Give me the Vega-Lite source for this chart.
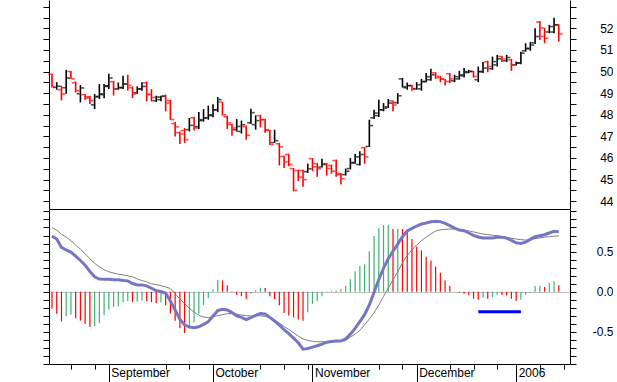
{
"$schema": "https://vega.github.io/schema/vega-lite/v6.json",
"background": "white",
"padding": {"left": 42, "top": 0, "right": 0, "bottom": 0},
"spacing": 0,
"bounds": "flush",
"config": {"view": {"stroke": null}, "axis": {"domainColor": "#000", "tickColor": "#000", "labelColor": "#000", "labelFont": "Liberation Sans", "labelFontSize": 12, "grid": false, "domainWidth": 1, "tickWidth": 1}},
"resolve": {"scale": {"color": "independent", "x": "independent", "y": "independent"}},
"datasets": {
"px": [
{"d":"2005-08-16","o":49.88,"h":49.90,"l":49.26,"c":49.27,"col":"down"},
{"d":"2005-08-17","o":49.27,"h":49.51,"l":49.16,"c":49.32,"col":"up"},
{"d":"2005-08-18","o":49.16,"h":49.34,"l":48.66,"c":48.96,"col":"down"},
{"d":"2005-08-19","o":49.25,"h":50.08,"l":48.97,"c":49.70,"col":"up"},
{"d":"2005-08-22","o":50.00,"h":50.03,"l":49.65,"c":49.66,"col":"down"},
{"d":"2005-08-23","o":49.48,"h":49.54,"l":49.03,"c":49.11,"col":"down"},
{"d":"2005-08-24","o":48.97,"h":49.37,"l":48.57,"c":49.24,"col":"up"},
{"d":"2005-08-25","o":48.93,"h":48.96,"l":48.70,"c":48.77,"col":"down"},
{"d":"2005-08-26","o":48.83,"h":48.88,"l":48.50,"c":48.65,"col":"down"},
{"d":"2005-08-29","o":48.46,"h":48.96,"l":48.27,"c":48.85,"col":"up"},
{"d":"2005-08-30","o":48.83,"h":49.42,"l":48.73,"c":48.97,"col":"up"},
{"d":"2005-08-31","o":48.93,"h":49.42,"l":48.76,"c":49.31,"col":"up"},
{"d":"2005-09-01","o":49.34,"h":49.90,"l":49.19,"c":49.70,"col":"up"},
{"d":"2005-09-02","o":49.53,"h":49.57,"l":48.89,"c":49.19,"col":"down"},
{"d":"2005-09-05","o":49.20,"h":49.49,"l":49.16,"c":49.26,"col":"up"},
{"d":"2005-09-06","o":49.25,"h":49.80,"l":49.19,"c":49.42,"col":"up"},
{"d":"2005-09-07","o":49.43,"h":49.85,"l":49.12,"c":49.36,"col":"down"},
{"d":"2005-09-08","o":49.25,"h":49.31,"l":48.77,"c":48.96,"col":"down"},
{"d":"2005-09-09","o":49.02,"h":49.31,"l":48.97,"c":49.19,"col":"up"},
{"d":"2005-09-12","o":49.20,"h":49.51,"l":49.11,"c":49.31,"col":"up"},
{"d":"2005-09-13","o":49.48,"h":49.54,"l":48.62,"c":48.96,"col":"down"},
{"d":"2005-09-14","o":48.93,"h":49.19,"l":48.62,"c":48.80,"col":"down"},
{"d":"2005-09-15","o":48.65,"h":48.88,"l":48.59,"c":48.82,"col":"up"},
{"d":"2005-09-16","o":48.70,"h":48.88,"l":48.62,"c":48.85,"col":"up"},
{"d":"2005-09-19","o":48.88,"h":48.93,"l":48.16,"c":48.54,"col":"down"},
{"d":"2005-09-20","o":48.65,"h":48.70,"l":47.76,"c":47.78,"col":"down"},
{"d":"2005-09-21","o":47.59,"h":47.67,"l":47.00,"c":47.44,"col":"down"},
{"d":"2005-09-22","o":47.17,"h":47.23,"l":46.65,"c":47.11,"col":"down"},
{"d":"2005-09-23","o":47.27,"h":47.39,"l":46.70,"c":46.85,"col":"down"},
{"d":"2005-09-26","o":47.31,"h":47.85,"l":47.23,"c":47.51,"col":"up"},
{"d":"2005-09-27","o":47.86,"h":47.91,"l":47.27,"c":47.39,"col":"down"},
{"d":"2005-09-28","o":47.45,"h":48.13,"l":47.34,"c":47.77,"col":"up"},
{"d":"2005-09-29","o":47.73,"h":48.26,"l":47.68,"c":47.85,"col":"up"},
{"d":"2005-09-30","o":47.86,"h":48.42,"l":47.77,"c":48.00,"col":"up"},
{"d":"2005-10-03","o":47.96,"h":48.49,"l":47.89,"c":48.23,"col":"up"},
{"d":"2005-10-04","o":48.23,"h":48.82,"l":48.12,"c":48.70,"col":"up"},
{"d":"2005-10-05","o":48.59,"h":48.60,"l":47.96,"c":48.00,"col":"down"},
{"d":"2005-10-06","o":47.91,"h":47.96,"l":47.34,"c":47.62,"col":"down"},
{"d":"2005-10-07","o":47.54,"h":47.59,"l":47.03,"c":47.39,"col":"down"},
{"d":"2005-10-10","o":47.31,"h":47.80,"l":47.22,"c":47.46,"col":"up"},
{"d":"2005-10-11","o":47.23,"h":47.73,"l":47.13,"c":47.54,"col":"up"},
{"d":"2005-10-12","o":47.45,"h":47.50,"l":46.84,"c":47.05,"col":"down"},
{"d":"2005-10-13","o":47.63,"h":48.28,"l":47.57,"c":48.10,"col":"up"},
{"d":"2005-10-14","o":47.54,"h":47.97,"l":47.31,"c":47.73,"col":"up"},
{"d":"2005-10-17","o":47.96,"h":48.00,"l":47.42,"c":47.77,"col":"down"},
{"d":"2005-10-18","o":47.77,"h":47.82,"l":47.17,"c":47.31,"col":"down"},
{"d":"2005-10-19","o":47.27,"h":47.31,"l":46.60,"c":46.62,"col":"down"},
{"d":"2005-10-20","o":46.71,"h":47.31,"l":46.70,"c":46.80,"col":"up"},
{"d":"2005-10-21","o":46.66,"h":46.70,"l":45.66,"c":46.51,"col":"down"},
{"d":"2005-10-24","o":46.07,"h":46.11,"l":45.54,"c":45.82,"col":"down"},
{"d":"2005-10-25","o":46.16,"h":46.20,"l":45.62,"c":45.70,"col":"down"},
{"d":"2005-10-26","o":45.51,"h":45.54,"l":44.46,"c":44.50,"col":"down"},
{"d":"2005-10-27","o":45.42,"h":45.47,"l":44.93,"c":45.11,"col":"down"},
{"d":"2005-10-28","o":45.42,"h":45.47,"l":44.67,"c":45.00,"col":"down"},
{"d":"2005-10-31","o":45.37,"h":45.74,"l":45.31,"c":45.50,"col":"up"},
{"d":"2005-11-01","o":45.97,"h":46.00,"l":45.39,"c":45.59,"col":"down"},
{"d":"2005-11-02","o":45.74,"h":45.77,"l":45.13,"c":45.50,"col":"down"},
{"d":"2005-11-03","o":45.58,"h":45.96,"l":45.56,"c":45.70,"col":"up"},
{"d":"2005-11-04","o":45.74,"h":45.77,"l":45.19,"c":45.51,"col":"down"},
{"d":"2005-11-07","o":45.65,"h":45.70,"l":45.27,"c":45.39,"col":"down"},
{"d":"2005-11-08","o":45.88,"h":45.93,"l":45.13,"c":45.23,"col":"down"},
{"d":"2005-11-09","o":45.28,"h":45.31,"l":44.77,"c":45.04,"col":"down"},
{"d":"2005-11-10","o":45.23,"h":45.51,"l":45.19,"c":45.39,"col":"up"},
{"d":"2005-11-11","o":45.51,"h":46.00,"l":45.47,"c":45.77,"col":"up"},
{"d":"2005-11-14","o":45.79,"h":46.19,"l":45.73,"c":46.05,"col":"up"},
{"d":"2005-11-15","o":45.70,"h":46.31,"l":45.65,"c":46.16,"col":"up"},
{"d":"2005-11-16","o":46.48,"h":46.51,"l":45.74,"c":46.05,"col":"down"},
{"d":"2005-11-17","o":46.53,"h":47.77,"l":46.51,"c":47.50,"col":"up"},
{"d":"2005-11-18","o":47.86,"h":48.23,"l":47.80,"c":48.08,"col":"up"},
{"d":"2005-11-21","o":47.96,"h":48.70,"l":47.90,"c":48.23,"col":"up"},
{"d":"2005-11-22","o":48.23,"h":48.54,"l":48.16,"c":48.31,"col":"up"},
{"d":"2005-11-23","o":48.37,"h":48.73,"l":48.31,"c":48.54,"col":"up"},
{"d":"2005-11-24","o":48.64,"h":48.66,"l":48.16,"c":48.45,"col":"down"},
{"d":"2005-11-25","o":48.56,"h":49.00,"l":48.50,"c":48.88,"col":"up"},
{"d":"2005-11-28","o":49.66,"h":49.70,"l":49.26,"c":49.30,"col":"up"},
{"d":"2005-11-29","o":49.25,"h":49.49,"l":49.16,"c":49.34,"col":"up"},
{"d":"2005-11-30","o":49.36,"h":49.39,"l":49.11,"c":49.19,"col":"down"},
{"d":"2005-12-01","o":49.20,"h":49.51,"l":49.16,"c":49.39,"col":"up"},
{"d":"2005-12-02","o":49.20,"h":49.66,"l":49.11,"c":49.54,"col":"up"},
{"d":"2005-12-05","o":49.53,"h":49.93,"l":49.51,"c":49.76,"col":"up"},
{"d":"2005-12-06","o":49.62,"h":50.13,"l":49.57,"c":49.85,"col":"up"},
{"d":"2005-12-07","o":49.94,"h":49.97,"l":49.66,"c":49.72,"col":"down"},
{"d":"2005-12-08","o":49.78,"h":49.80,"l":49.51,"c":49.66,"col":"down"},
{"d":"2005-12-09","o":49.64,"h":49.66,"l":49.35,"c":49.54,"col":"down"},
{"d":"2005-12-12","o":49.90,"h":49.93,"l":49.47,"c":49.66,"col":"down"},
{"d":"2005-12-13","o":49.57,"h":49.85,"l":49.51,"c":49.76,"col":"up"},
{"d":"2005-12-14","o":49.66,"h":50.03,"l":49.62,"c":49.85,"col":"up"},
{"d":"2005-12-15","o":49.80,"h":50.16,"l":49.72,"c":50.00,"col":"up"},
{"d":"2005-12-16","o":49.95,"h":50.08,"l":49.93,"c":50.00,"col":"up"},
{"d":"2005-12-19","o":50.01,"h":50.03,"l":49.72,"c":49.77,"col":"down"},
{"d":"2005-12-20","o":49.62,"h":50.23,"l":49.51,"c":50.00,"col":"up"},
{"d":"2005-12-21","o":49.99,"h":50.44,"l":49.93,"c":50.16,"col":"up"},
{"d":"2005-12-22","o":50.45,"h":50.50,"l":49.97,"c":50.23,"col":"down"},
{"d":"2005-12-23","o":50.13,"h":50.69,"l":50.08,"c":50.46,"col":"up"},
{"d":"2005-12-27","o":50.31,"h":50.77,"l":50.23,"c":50.59,"col":"up"},
{"d":"2005-12-28","o":50.70,"h":50.73,"l":50.44,"c":50.58,"col":"down"},
{"d":"2005-12-29","o":50.50,"h":50.77,"l":50.44,"c":50.65,"col":"up"},
{"d":"2005-12-30","o":50.54,"h":50.59,"l":50.03,"c":50.31,"col":"down"},
{"d":"2006-01-02","o":50.31,"h":50.46,"l":50.28,"c":50.39,"col":"up"},
{"d":"2006-01-03","o":50.40,"h":50.92,"l":50.34,"c":50.85,"col":"up"},
{"d":"2006-01-04","o":50.96,"h":51.31,"l":50.92,"c":51.08,"col":"up"},
{"d":"2006-01-05","o":51.05,"h":51.36,"l":50.96,"c":51.23,"col":"up"},
{"d":"2006-01-06","o":51.33,"h":52.00,"l":51.27,"c":51.62,"col":"up"},
{"d":"2006-01-09","o":52.29,"h":52.34,"l":51.46,"c":51.62,"col":"down"},
{"d":"2006-01-10","o":52.02,"h":52.03,"l":51.31,"c":51.54,"col":"down"},
{"d":"2006-01-11","o":51.83,"h":52.16,"l":51.77,"c":52.08,"col":"up"},
{"d":"2006-01-12","o":51.83,"h":52.49,"l":51.77,"c":52.16,"col":"up"},
{"d":"2006-01-13","o":52.16,"h":52.19,"l":51.39,"c":51.73,"col":"down"}
],
"mc": [
{"d":"2005-08-16","macd":0.693,"signal":0.798,"hist":-0.21,"trend":"fall"},
{"d":"2005-08-17","macd":0.656,"signal":0.768,"hist":-0.275,"trend":"fall"},
{"d":"2005-08-18","macd":0.552,"signal":0.714,"hist":-0.37,"trend":"fall"},
{"d":"2005-08-19","macd":0.52,"signal":0.681,"hist":-0.305,"trend":"rise"},
{"d":"2005-08-22","macd":0.493,"signal":0.635,"hist":-0.285,"trend":"rise"},
{"d":"2005-08-23","macd":0.443,"signal":0.581,"hist":-0.33,"trend":"fall"},
{"d":"2005-08-24","macd":0.389,"signal":0.529,"hist":-0.36,"trend":"fall"},
{"d":"2005-08-25","macd":0.331,"signal":0.473,"hist":-0.40,"trend":"fall"},
{"d":"2005-08-26","macd":0.252,"signal":0.41,"hist":-0.44,"trend":"fall"},
{"d":"2005-08-29","macd":0.185,"signal":0.354,"hist":-0.43,"trend":"rise"},
{"d":"2005-08-30","macd":0.158,"signal":0.31,"hist":-0.39,"trend":"rise"},
{"d":"2005-08-31","macd":0.156,"signal":0.275,"hist":-0.29,"trend":"rise"},
{"d":"2005-09-01","macd":0.154,"signal":0.248,"hist":-0.22,"trend":"rise"},
{"d":"2005-09-02","macd":0.148,"signal":0.233,"hist":-0.19,"trend":"rise"},
{"d":"2005-09-05","macd":0.148,"signal":0.218,"hist":-0.18,"trend":"rise"},
{"d":"2005-09-06","macd":0.139,"signal":0.21,"hist":-0.13,"trend":"rise"},
{"d":"2005-09-07","macd":0.135,"signal":0.198,"hist":-0.115,"trend":"rise"},
{"d":"2005-09-08","macd":0.102,"signal":0.185,"hist":-0.13,"trend":"fall"},
{"d":"2005-09-09","macd":0.085,"signal":0.16,"hist":-0.125,"trend":"rise"},
{"d":"2005-09-12","macd":0.085,"signal":0.139,"hist":-0.11,"trend":"rise"},
{"d":"2005-09-13","macd":0.073,"signal":0.123,"hist":-0.12,"trend":"fall"},
{"d":"2005-09-14","macd":0.043,"signal":0.098,"hist":-0.13,"trend":"fall"},
{"d":"2005-09-15","macd":0.014,"signal":0.089,"hist":-0.14,"trend":"fall"},
{"d":"2005-09-16","macd":0.002,"signal":0.075,"hist":-0.13,"trend":"rise"},
{"d":"2005-09-19","macd":-0.019,"signal":0.06,"hist":-0.17,"trend":"fall"},
{"d":"2005-09-20","macd":-0.115,"signal":0.039,"hist":-0.27,"trend":"fall"},
{"d":"2005-09-21","macd":-0.228,"signal":-0.028,"hist":-0.36,"trend":"fall"},
{"d":"2005-09-22","macd":-0.344,"signal":-0.09,"hist":-0.455,"trend":"fall"},
{"d":"2005-09-23","macd":-0.411,"signal":-0.148,"hist":-0.515,"trend":"fall"},
{"d":"2005-09-26","macd":-0.44,"signal":-0.207,"hist":-0.45,"trend":"rise"},
{"d":"2005-09-27","macd":-0.448,"signal":-0.253,"hist":-0.38,"trend":"rise"},
{"d":"2005-09-28","macd":-0.436,"signal":-0.294,"hist":-0.275,"trend":"rise"},
{"d":"2005-09-29","macd":-0.407,"signal":-0.315,"hist":-0.165,"trend":"rise"},
{"d":"2005-09-30","macd":-0.373,"signal":-0.323,"hist":-0.08,"trend":"rise"},
{"d":"2005-10-03","macd":-0.303,"signal":-0.311,"hist":0.03,"trend":"rise"},
{"d":"2005-10-04","macd":-0.236,"signal":-0.298,"hist":0.145,"trend":"rise"},
{"d":"2005-10-05","macd":-0.219,"signal":-0.286,"hist":0.14,"trend":"fall"},
{"d":"2005-10-06","macd":-0.228,"signal":-0.273,"hist":0.08,"trend":"fall"},
{"d":"2005-10-07","macd":-0.26,"signal":-0.273,"hist":0.005,"trend":"fall"},
{"d":"2005-10-10","macd":-0.3,"signal":-0.28,"hist":-0.04,"trend":"fall"},
{"d":"2005-10-11","macd":-0.32,"signal":-0.29,"hist":-0.055,"trend":"fall"},
{"d":"2005-10-12","macd":-0.348,"signal":-0.298,"hist":-0.09,"trend":"fall"},
{"d":"2005-10-13","macd":-0.323,"signal":-0.303,"hist":-0.025,"trend":"rise"},
{"d":"2005-10-14","macd":-0.294,"signal":-0.298,"hist":0.02,"trend":"rise"},
{"d":"2005-10-17","macd":-0.273,"signal":-0.3,"hist":0.05,"trend":"rise"},
{"d":"2005-10-18","macd":-0.278,"signal":-0.307,"hist":0.045,"trend":"fall"},
{"d":"2005-10-19","macd":-0.319,"signal":-0.328,"hist":-0.055,"trend":"fall"},
{"d":"2005-10-20","macd":-0.365,"signal":-0.353,"hist":-0.095,"trend":"fall"},
{"d":"2005-10-21","macd":-0.415,"signal":-0.39,"hist":-0.17,"trend":"fall"},
{"d":"2005-10-24","macd":-0.473,"signal":-0.432,"hist":-0.265,"trend":"fall"},
{"d":"2005-10-25","macd":-0.523,"signal":-0.469,"hist":-0.295,"trend":"fall"},
{"d":"2005-10-26","macd":-0.578,"signal":-0.511,"hist":-0.32,"trend":"fall"},
{"d":"2005-10-27","macd":-0.636,"signal":-0.553,"hist":-0.345,"trend":"fall"},
{"d":"2005-10-28","macd":-0.715,"signal":-0.588,"hist":-0.36,"trend":"fall"},
{"d":"2005-10-31","macd":-0.707,"signal":-0.607,"hist":-0.255,"trend":"rise"},
{"d":"2005-11-01","macd":-0.69,"signal":-0.617,"hist":-0.15,"trend":"rise"},
{"d":"2005-11-02","macd":-0.673,"signal":-0.623,"hist":-0.12,"trend":"rise"},
{"d":"2005-11-03","macd":-0.653,"signal":-0.623,"hist":-0.055,"trend":"rise"},
{"d":"2005-11-04","macd":-0.628,"signal":-0.623,"hist":0.005,"trend":"rise"},
{"d":"2005-11-07","macd":-0.619,"signal":-0.623,"hist":0.012,"trend":"rise"},
{"d":"2005-11-08","macd":-0.615,"signal":-0.623,"hist":0.015,"trend":"rise"},
{"d":"2005-11-09","macd":-0.615,"signal":-0.619,"hist":0.03,"trend":"rise"},
{"d":"2005-11-10","macd":-0.586,"signal":-0.607,"hist":0.07,"trend":"rise"},
{"d":"2005-11-11","macd":-0.528,"signal":-0.565,"hist":0.155,"trend":"rise"},
{"d":"2005-11-14","macd":-0.457,"signal":-0.528,"hist":0.255,"trend":"rise"},
{"d":"2005-11-15","macd":-0.373,"signal":-0.482,"hist":0.32,"trend":"rise"},
{"d":"2005-11-16","macd":-0.286,"signal":-0.411,"hist":0.34,"trend":"rise"},
{"d":"2005-11-17","macd":-0.165,"signal":-0.34,"hist":0.505,"trend":"rise"},
{"d":"2005-11-18","macd":-0.007,"signal":-0.261,"hist":0.695,"trend":"rise"},
{"d":"2005-11-21","macd":0.152,"signal":-0.165,"hist":0.79,"trend":"rise"},
{"d":"2005-11-22","macd":0.293,"signal":-0.057,"hist":0.83,"trend":"rise"},
{"d":"2005-11-23","macd":0.41,"signal":0.043,"hist":0.832,"trend":"rise"},
{"d":"2005-11-24","macd":0.506,"signal":0.148,"hist":0.78,"trend":"fall"},
{"d":"2005-11-25","macd":0.593,"signal":0.248,"hist":0.785,"trend":"rise"},
{"d":"2005-11-28","macd":0.685,"signal":0.36,"hist":0.78,"trend":"fall"},
{"d":"2005-11-29","macd":0.756,"signal":0.452,"hist":0.745,"trend":"fall"},
{"d":"2005-11-30","macd":0.789,"signal":0.523,"hist":0.655,"trend":"fall"},
{"d":"2005-12-01","macd":0.818,"signal":0.577,"hist":0.56,"trend":"fall"},
{"d":"2005-12-02","macd":0.843,"signal":0.635,"hist":0.515,"trend":"fall"},
{"d":"2005-12-05","macd":0.855,"signal":0.68,"hist":0.435,"trend":"fall"},
{"d":"2005-12-06","macd":0.87,"signal":0.72,"hist":0.39,"trend":"fall"},
{"d":"2005-12-07","macd":0.877,"signal":0.756,"hist":0.315,"trend":"fall"},
{"d":"2005-12-08","macd":0.873,"signal":0.77,"hist":0.235,"trend":"fall"},
{"d":"2005-12-09","macd":0.852,"signal":0.777,"hist":0.14,"trend":"fall"},
{"d":"2005-12-12","macd":0.823,"signal":0.781,"hist":0.07,"trend":"fall"},
{"d":"2005-12-13","macd":0.793,"signal":0.781,"hist":0.002,"trend":"fall"},
{"d":"2005-12-14","macd":0.768,"signal":0.775,"hist":-0.012,"trend":"fall"},
{"d":"2005-12-15","macd":0.76,"signal":0.766,"hist":-0.025,"trend":"fall"},
{"d":"2005-12-16","macd":0.731,"signal":0.758,"hist":-0.045,"trend":"fall"},
{"d":"2005-12-19","macd":0.702,"signal":0.745,"hist":-0.088,"trend":"fall"},
{"d":"2005-12-20","macd":0.681,"signal":0.731,"hist":-0.1,"trend":"fall"},
{"d":"2005-12-21","macd":0.67,"signal":0.718,"hist":-0.075,"trend":"rise"},
{"d":"2005-12-22","macd":0.668,"signal":0.71,"hist":-0.088,"trend":"fall"},
{"d":"2005-12-23","macd":0.67,"signal":0.704,"hist":-0.067,"trend":"rise"},
{"d":"2005-12-27","macd":0.677,"signal":0.698,"hist":-0.038,"trend":"rise"},
{"d":"2005-12-28","macd":0.677,"signal":0.687,"hist":-0.04,"trend":"fall"},
{"d":"2005-12-29","macd":0.668,"signal":0.677,"hist":-0.046,"trend":"fall"},
{"d":"2005-12-30","macd":0.639,"signal":0.666,"hist":-0.088,"trend":"fall"},
{"d":"2006-01-02","macd":0.61,"signal":0.656,"hist":-0.117,"trend":"fall"},
{"d":"2006-01-03","macd":0.602,"signal":0.648,"hist":-0.1,"trend":"rise"},
{"d":"2006-01-04","macd":0.618,"signal":0.643,"hist":-0.038,"trend":"rise"},
{"d":"2006-01-05","macd":0.652,"signal":0.648,"hist":-0.012,"trend":"rise"},
{"d":"2006-01-06","macd":0.685,"signal":0.662,"hist":0.07,"trend":"rise"},
{"d":"2006-01-09","macd":0.698,"signal":0.668,"hist":0.072,"trend":"rise"},
{"d":"2006-01-10","macd":0.71,"signal":0.679,"hist":0.058,"trend":"fall"},
{"d":"2006-01-11","macd":0.731,"signal":0.685,"hist":0.108,"trend":"rise"},
{"d":"2006-01-12","macd":0.752,"signal":0.691,"hist":0.13,"trend":"rise"},
{"d":"2006-01-13","macd":0.748,"signal":0.698,"hist":0.08,"trend":"fall"}
],
"ann": [{"d":"2005-12-20","d2":"2006-01-03","level":-0.25}]
},
"vconcat": [
{
"width": 521, "height": 209,
"data": {"name": "px"},
"encoding": {"x": {"field": "d", "type": "ordinal", "scale": {"type": "point", "padding": 1, "align": 0.316, "domain": {"unionWith": ["2006-01-16"]}}, "axis": {"title": null, "labels": false, "ticks": false, "domain": true, "grid": false}}},
"layer": [
{"mark": {"type": "rule", "strokeWidth": 1.6}, "encoding": {
"y": {"field": "l", "type": "quantitative", "scale": {"domain": [43.64, 53.31], "nice": false, "zero": false}, "axis": {"orient": "left", "title": null, "labels": false, "tickSize": 6, "values": [44,44.5,45,45.5,46,46.5,47,47.5,48,48.5,49,49.5,50,50.5,51,51.5,52,52.5,53]}},
"y2": {"field": "h"},
"color": {"field": "col", "type": "nominal", "scale": {"domain": ["up","down"], "range": ["#000000","#ff0000"]}, "legend": null}}},
{"mark": {"type": "tick", "orient": "horizontal", "size": 3, "thickness": 1.6, "xOffset": -2.3}, "encoding": {
"y": {"field": "o", "type": "quantitative", "scale": {"domain": [43.64, 53.31], "nice": false, "zero": false}, "axis": {"orient": "right", "title": null, "tickSize": 6, "labelAlign": "right", "labelPadding": 37, "values": [44,44.5,45,45.5,46,46.5,47,47.5,48,48.5,49,49.5,50,50.5,51,51.5,52,52.5,53], "labelExpr": "datum.value % 1 == 0 && datum.value <= 52 ? '' + datum.value : ''"}},
"color": {"field": "col", "type": "nominal", "scale": {"domain": ["up","down"], "range": ["#000000","#ff0000"]}, "legend": null}}},
{"mark": {"type": "tick", "orient": "horizontal", "size": 3, "thickness": 1.6, "xOffset": 2.3}, "encoding": {
"y": {"field": "c", "type": "quantitative", "scale": {"domain": [43.64, 53.31], "nice": false, "zero": false}, "axis": null},
"color": {"field": "col", "type": "nominal", "scale": {"domain": ["up","down"], "range": ["#000000","#ff0000"]}, "legend": null}}}
],
"resolve": {"axis": {"y": "independent"}}
},
{
"width": 521, "height": 155,
"data": {"name": "mc"},
"layer": [
{"mark": {"type": "rule", "strokeWidth": 1.2}, "encoding": {
"x": {"field": "d", "type": "ordinal", "scale": {"type": "point", "padding": 1, "align": 0.316, "domain": {"unionWith": ["2006-01-16"]}}, "axis": {"title": null, "values": ["2005-08-22","2005-08-29","2005-09-01","2005-09-19","2005-09-26","2005-10-03","2005-10-17","2005-10-24","2005-10-31","2005-11-01","2005-11-21","2005-11-28","2005-12-01","2005-12-12","2005-12-19","2005-12-27","2006-01-02","2006-01-09","2006-01-16"], "tickSize": {"condition": {"test": "indexof(['2005-09-01','2005-10-03','2005-11-01','2005-12-01','2006-01-02'], datum.value) >= 0", "value": 18}, "value": 5}, "labelExpr": "datum.value == '2005-09-01' ? 'September' : datum.value == '2005-10-03' ? 'October' : datum.value == '2005-11-01' ? 'November' : datum.value == '2005-12-01' ? 'December' : datum.value == '2006-01-02' ? '2006' : ''", "labelAlign": "left", "labelBaseline": "top", "labelPadding": -15, "labelOffset": 2, "labelOverlap": false, "labelAngle": 0}},
"y": {"field": "hist", "type": "quantitative", "scale": {"domain": [-0.9, 1.03], "nice": false, "zero": false}, "axis": {"orient": "left", "title": null, "labels": false, "tickSize": 6, "values": [-0.9,-0.8,-0.7,-0.6,-0.5,-0.4,-0.3,-0.2,-0.1,0,0.1,0.2,0.3,0.4,0.5,0.6,0.7,0.8,0.9,1.0], "grid": true, "gridColor": "#c0c0c0", "gridOpacity": {"condition": {"test": "datum.value == 0", "value": 1}, "value": 0}}},
"y2": {"datum": 0},
"color": {"field": "trend", "type": "nominal", "scale": {"domain": ["rise","fall"], "range": ["#3cb371","#ff0000"]}, "legend": null}}},
{"mark": {"type": "line", "color": "#808080", "strokeWidth": 1}, "encoding": {
"x": {"field": "d", "type": "ordinal", "scale": {"type": "point", "padding": 1, "align": 0.316, "domain": {"unionWith": ["2006-01-16"]}}, "axis": {"title": null, "values": ["2005-08-22","2005-08-29","2005-09-01","2005-09-19","2005-09-26","2005-10-03","2005-10-17","2005-10-24","2005-10-31","2005-11-01","2005-11-21","2005-11-28","2005-12-01","2005-12-12","2005-12-19","2005-12-27","2006-01-02","2006-01-09","2006-01-16"], "tickSize": {"condition": {"test": "indexof(['2005-09-01','2005-10-03','2005-11-01','2005-12-01','2006-01-02'], datum.value) >= 0", "value": 18}, "value": 5}, "labelExpr": "datum.value == '2005-09-01' ? 'September' : datum.value == '2005-10-03' ? 'October' : datum.value == '2005-11-01' ? 'November' : datum.value == '2005-12-01' ? 'December' : datum.value == '2006-01-02' ? '2006' : ''", "labelAlign": "left", "labelBaseline": "top", "labelPadding": -15, "labelOffset": 2, "labelOverlap": false, "labelAngle": 0}},
"y": {"field": "signal", "type": "quantitative", "scale": {"domain": [-0.9, 1.03], "nice": false, "zero": false}, "axis": {"orient": "right", "title": null, "tickSize": 6, "labelAlign": "right", "labelPadding": 37, "values": [-0.9,-0.8,-0.7,-0.6,-0.5,-0.4,-0.3,-0.2,-0.1,0,0.1,0.2,0.3,0.4,0.5,0.6,0.7,0.8,0.9,1.0], "labelExpr": "datum.value == 0.5 ? '0.5' : datum.value == 0 ? '0.0' : datum.value == -0.5 ? '-0.5' : ''"}}}},
{"mark": {"type": "line", "color": "#7676c4", "strokeWidth": 3}, "encoding": {
"x": {"field": "d", "type": "ordinal", "scale": {"type": "point", "padding": 1, "align": 0.316, "domain": {"unionWith": ["2006-01-16"]}}, "axis": {"title": null, "values": ["2005-08-22","2005-08-29","2005-09-01","2005-09-19","2005-09-26","2005-10-03","2005-10-17","2005-10-24","2005-10-31","2005-11-01","2005-11-21","2005-11-28","2005-12-01","2005-12-12","2005-12-19","2005-12-27","2006-01-02","2006-01-09","2006-01-16"], "tickSize": {"condition": {"test": "indexof(['2005-09-01','2005-10-03','2005-11-01','2005-12-01','2006-01-02'], datum.value) >= 0", "value": 18}, "value": 5}, "labelExpr": "datum.value == '2005-09-01' ? 'September' : datum.value == '2005-10-03' ? 'October' : datum.value == '2005-11-01' ? 'November' : datum.value == '2005-12-01' ? 'December' : datum.value == '2006-01-02' ? '2006' : ''", "labelAlign": "left", "labelBaseline": "top", "labelPadding": -15, "labelOffset": 2, "labelOverlap": false, "labelAngle": 0}},
"y": {"field": "macd", "type": "quantitative", "scale": {"domain": [-0.9, 1.03], "nice": false, "zero": false}, "axis": null}}},
{"data": {"name": "ann"}, "mark": {"type": "rule", "color": "#0000ff", "strokeWidth": 3}, "encoding": {
"x": {"field": "d", "type": "ordinal", "scale": {"type": "point", "padding": 1, "align": 0.316, "domain": {"unionWith": ["2006-01-16"]}}, "axis": {"title": null, "values": ["2005-08-22","2005-08-29","2005-09-01","2005-09-19","2005-09-26","2005-10-03","2005-10-17","2005-10-24","2005-10-31","2005-11-01","2005-11-21","2005-11-28","2005-12-01","2005-12-12","2005-12-19","2005-12-27","2006-01-02","2006-01-09","2006-01-16"], "tickSize": {"condition": {"test": "indexof(['2005-09-01','2005-10-03','2005-11-01','2005-12-01','2006-01-02'], datum.value) >= 0", "value": 18}, "value": 5}, "labelExpr": "datum.value == '2005-09-01' ? 'September' : datum.value == '2005-10-03' ? 'October' : datum.value == '2005-11-01' ? 'November' : datum.value == '2005-12-01' ? 'December' : datum.value == '2006-01-02' ? '2006' : ''", "labelAlign": "left", "labelBaseline": "top", "labelPadding": -15, "labelOffset": 2, "labelOverlap": false, "labelAngle": 0}},
"x2": {"field": "d2"},
"y": {"field": "level", "type": "quantitative", "scale": {"domain": [-0.9, 1.03], "nice": false, "zero": false}, "axis": null}}}
],
"resolve": {"axis": {"y": "independent"}}
}
]
}
